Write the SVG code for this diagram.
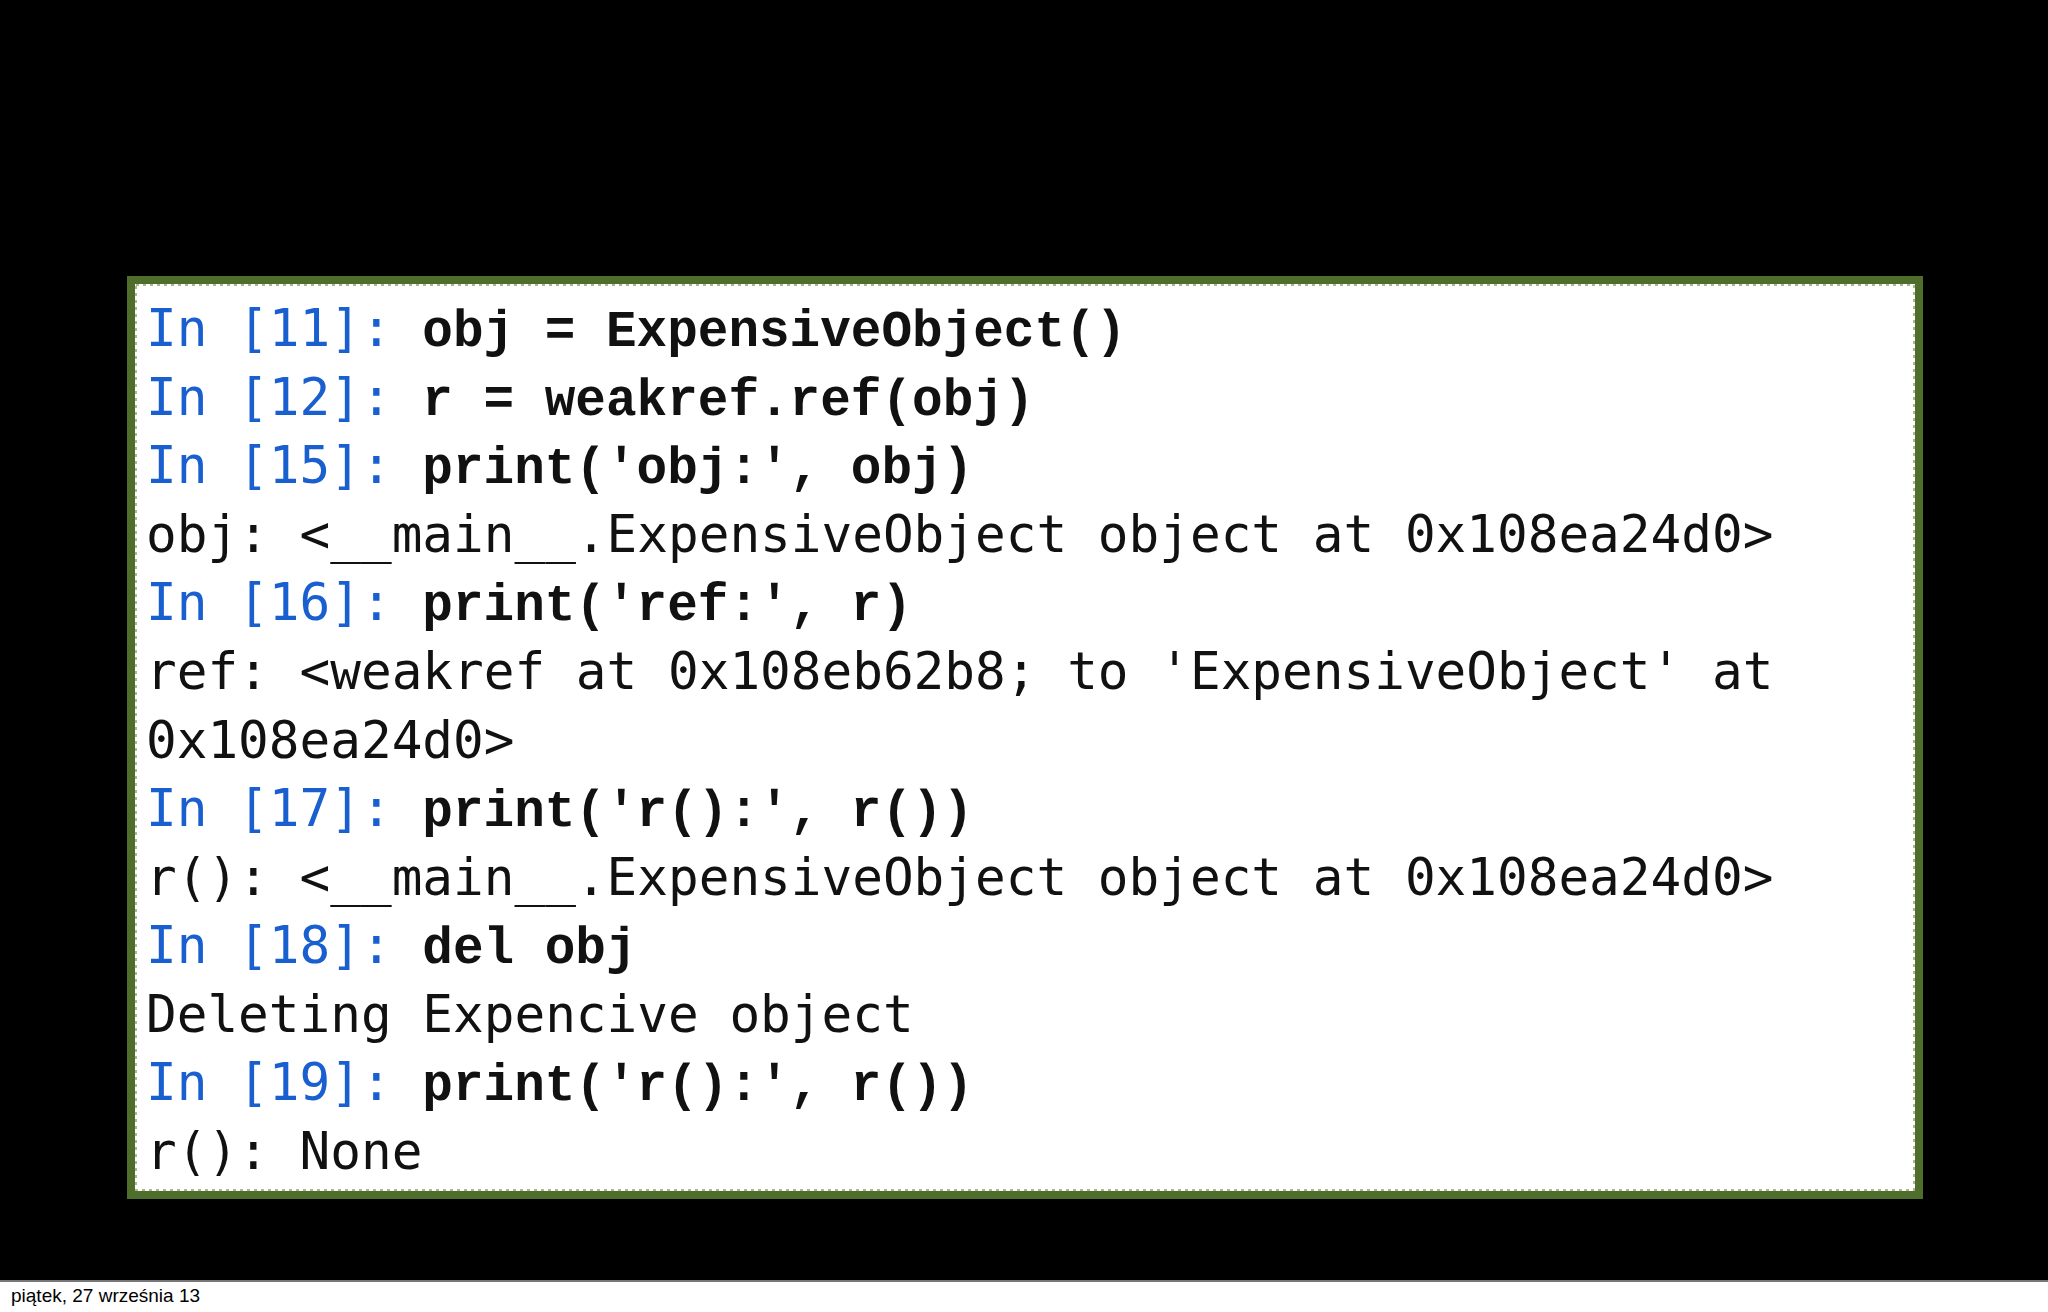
<svg xmlns="http://www.w3.org/2000/svg" width="2048" height="1312" viewBox="0 0 2048 1312">
<style>
.o{font-family:"DejaVu Sans Mono","Liberation Mono",monospace;font-size:51px;fill:#111}
.p{fill:#1a5fd0}
.c{font-family:"Liberation Mono","Courier New",monospace;font-weight:bold;fill:#111}
</style>
<rect width="2048" height="1312" fill="#fff"/>
<rect x="0" y="0" width="2048" height="1280" fill="#000"/>
<line x1="0" y1="1281" x2="2048" y2="1281" stroke="#777" stroke-width="2"/>
<g id="terminal">
<rect x="131" y="280" width="1788" height="915" fill="#fff" stroke="#4f6e2b" stroke-width="8"/>
<rect x="136" y="285" width="1778" height="905" fill="none" stroke="#a9b98f" stroke-width="2" stroke-dasharray="3 4"/>
<g class="o" xml:space="preserve">
<text x="146" y="346"><tspan class="p">In [11]: </tspan><tspan class="c">obj = ExpensiveObject()</tspan></text>
<text x="146" y="415"><tspan class="p">In [12]: </tspan><tspan class="c">r = weakref.ref(obj)</tspan></text>
<text x="146" y="483"><tspan class="p">In [15]: </tspan><tspan class="c">print('obj:', obj)</tspan></text>
<text x="146" y="552">obj: &lt;__main__.ExpensiveObject object at 0x108ea24d0&gt;</text>
<text x="146" y="620"><tspan class="p">In [16]: </tspan><tspan class="c">print('ref:', r)</tspan></text>
<text x="146" y="689">ref: &lt;weakref at 0x108eb62b8; to 'ExpensiveObject' at</text>
<text x="146" y="758">0x108ea24d0&gt;</text>
<text x="146" y="826"><tspan class="p">In [17]: </tspan><tspan class="c">print('r():', r())</tspan></text>
<text x="146" y="895">r(): &lt;__main__.ExpensiveObject object at 0x108ea24d0&gt;</text>
<text x="146" y="963"><tspan class="p">In [18]: </tspan><tspan class="c">del obj</tspan></text>
<text x="146" y="1032">Deleting Expencive object</text>
<text x="146" y="1100"><tspan class="p">In [19]: </tspan><tspan class="c">print('r():', r())</tspan></text>
<text x="146" y="1169">r(): None</text>
</g>
</g>
<text x="11" y="1302" font-family="Liberation Sans,Arial,sans-serif" font-size="19" fill="#000">piątek, 27 września 13</text>
</svg>
